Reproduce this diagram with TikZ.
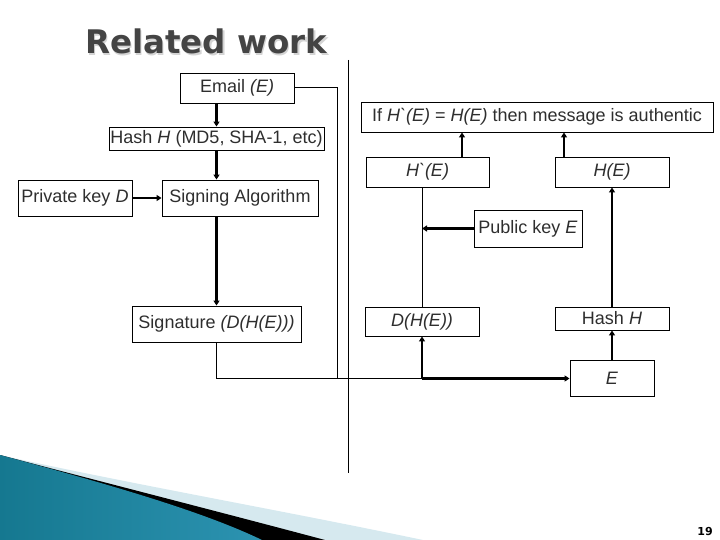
\documentclass[tikz,border=0pt]{standalone}
\usepackage{fontspec}
\setmainfont{Liberation Sans}[Ligatures=TeXOff]
\newfontfamily\titlefont{DejaVu Sans}
\usetikzlibrary{arrows.meta,calc}
\definecolor{txt}{HTML}{2E2E2E}
\definecolor{ttl}{HTML}{444444}
\definecolor{ttlshadow}{HTML}{D4D4D4}
\definecolor{lightband}{HTML}{D6E9EF}
\definecolor{tealdark}{HTML}{157890}
\definecolor{teallight}{HTML}{52B2D0}
\definecolor{tealright}{HTML}{2C93B1}
\tikzset{
  box/.style={draw=black, line width=0.9bp, inner sep=0pt, text=txt,
    font=\fontsize{18bp}{20bp}\selectfont},
  thickarrow/.style={line width=2.2bp, -{Triangle[length=5bp,width=6bp]}},
  thinline/.style={line width=1bp},
}
\begin{document}
\begin{tikzpicture}[x=1bp,y=-1bp]
\useasboundingbox (0,0) rectangle (720,540);
% decoration
\fill[lightband] (0,455) .. controls (120,482) and (280,510) .. (423,540) -- (0,540) -- cycle;
\fill[black] (0,455) .. controls (110,484) and (220,512) .. (325,540) -- (0,540) -- cycle;
\shade[left color=tealdark, middle color=teallight, right color=tealright]
  (0,455) .. controls (100,482) and (200,510) .. (262,540) -- (0,540) -- cycle;
% title
\node[anchor=base west, text=ttlshadow, inner sep=0pt,
  font=\titlefont\bfseries\fontsize{32.5bp}{36bp}\selectfont] (titleshadow) at (86.2,55.2) {Related work};
\node[anchor=base west, text=ttl, inner sep=0pt,
  font=\titlefont\bfseries\fontsize{32.5bp}{36bp}\selectfont] (title) at (85,54) {Related work};
\node[text=black, inner sep=0pt, font=\titlefont\bfseries\fontsize{11bp}{12bp}\selectfont] (pagenum) at (705,531) {19};
% divider
\coordinate (divtop) at (348,60);
\coordinate (divbot) at (348,473);
\draw[thinline] (divtop) -- (divbot);
% left side
\node[box, minimum width=114bp, minimum height=30bp] (email) at (237,88) {Email \textit{(E)}};
\node[box, minimum width=215bp, minimum height=23bp] (hash) at (216.5,138.5) {Hash \textit{H} (MD5, SHA-1, etc)};
\node[box, minimum width=156bp, minimum height=36bp] (sign) at (240,198) {Signing Algorithm};
\node[box, minimum width=114bp, minimum height=36bp] (priv) at (75,198) {Private key \textit{D}};
\node[box, minimum width=169bp, minimum height=36bp] (sig) at (216.5,324) {Signature \textit{(D(H(E)))}};
% right side
\node[box, minimum width=352bp, minimum height=30bp] (cond) at (537,117) {If \textit{H`(E)} = \textit{H(E)} then message is authentic};
\node[box, minimum width=123bp, minimum height=30bp] (hp) at (427.5,172) {\textit{H`(E)}};
\node[box, minimum width=114bp, minimum height=30bp] (he) at (612,172) {\textit{H(E)}};
\node[box, minimum width=108bp, minimum height=37bp] (pub) at (528,228.5) {Public key \textit{E}};
\node[box, minimum width=114bp, minimum height=29bp] (dhe) at (422,321.5) {\textit{D(H(E))}};
\node[box, minimum width=114bp, minimum height=23bp] (hashh) at (612,318.5) {Hash \textit{H}};
\node[box, minimum width=84bp, minimum height=36bp] (ebox) at (612,378.5) {\textit{E}};
% helper coordinates
\coordinate (join) at (337,378.5);
\coordinate (split) at (422,378.5);
\coordinate (ax1) at (462,0);
\coordinate (ax2) at (564,0);
% left connectors
\draw[thickarrow] (email.south -| hash.north) -- (hash.north);
\draw[thickarrow] (hash.south) -- (hash.south |- sign.north);
\draw[thickarrow] (priv.east) -- (sign.west);
\draw[thickarrow] (hash.south |- sign.south) -- (hash.south |- sig.north);
\draw[thinline] (email.east) -| (join);
\draw[thinline] (sig.south) |- (split);
% right connectors
\draw[thickarrow] (split) -- (dhe.south);
\draw[thickarrow] (split) -- (split -| ebox.west);
\draw[thickarrow] (ebox.north) -- (hashh.south);
\draw[thickarrow] (hashh.north) -- (he.south);
\draw[thinline] (dhe.north) -- (dhe.north |- hp.south);
\draw[thickarrow] (pub.west) -- (pub.west -| dhe.north);
\draw[thickarrow] (hp.north -| ax1) -- (cond.south -| ax1);
\draw[thickarrow] (he.north -| ax2) -- (cond.south -| ax2);
\end{tikzpicture}
\end{document}
